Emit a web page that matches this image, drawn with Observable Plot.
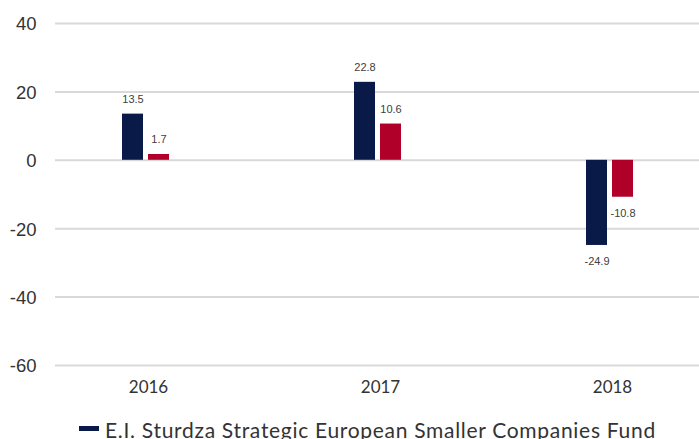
<!DOCTYPE html>
<html>
<head>
<meta charset="utf-8">
<script src="https://cdn.jsdelivr.net/npm/d3@7"></script>
<script src="https://cdn.jsdelivr.net/npm/@observablehq/plot@0.6"></script>
<style>
  html, body { margin: 0; padding: 0; background: #fff; overflow: hidden; }
  #chart svg { display: block; }
  .legend { display: flex; flex-wrap: wrap; margin-left: 79px; margin-top: 17px; width: 620px; font-family: Lato, "Open Sans", sans-serif; font-size: 21px; letter-spacing: 0.7px; color: #333; }
  .legend .item { display: flex; align-items: center; margin-right: 20px; line-height: 26px; }
  .legend .sw { width: 20px; height: 5px; margin-right: 6px; position: relative; top: -2px; }
</style>
</head>
<body>
<div id="chart"></div>
<script>
const years = ["2016", "2017", "2018"];
const seriesNames = ["E.I. Sturdza Strategic European Smaller Companies Fund", "Benchmark"];
const fundValues = [13.5, 22.8, -24.9];
const benchValues = [1.7, 10.6, -10.8];
const yTicks = [40, 20, 0, -20, -40, -60];
const colors = ["#0a1a48", "#b0002a"];

const rows = years.flatMap((y, i) => [
  {year: y, series: seriesNames[0], value: fundValues[i]},
  {year: y, series: seriesNames[1], value: benchValues[i]}
]);
const gridRows = years.flatMap(y => yTicks.map(t => ({year: y, tick: t})));

const chart = Plot.plot({
  width: 699,
  height: 400,
  marginTop: 23,
  marginBottom: 35,
  marginLeft: 55,
  marginRight: 0,
  style: {fontFamily: "'Liberation Sans', Arial, sans-serif", color: "#333", background: "#fff"},
  fx: {domain: years, range: [32, 728], padding: 0, label: null, axis: null},
  x: {domain: seriesNames, range: [145, 192], paddingInner: 0.2, paddingOuter: 0, axis: null},
  y: {domain: [-60, 40], axis: null, label: null},
  color: {domain: seriesNames, range: colors},
  marks: [
    Plot.ruleY(gridRows.filter(d => d.year === years[0]), {fx: "year", y: "tick", stroke: "#d9d9d9", strokeWidth: 2, insetLeft: 23}),
    Plot.ruleY(gridRows.filter(d => d.year !== years[0]), {fx: "year", y: "tick", stroke: "#d9d9d9", strokeWidth: 2}),
    Plot.axisY(yTicks, {tickSize: 0, tickPadding: 0, dx: 4, dy: 1, fontSize: 18.5, tickFormat: d => String(d), label: null}),
    Plot.axisFx({tickSize: 0, tickPadding: 15, fontSize: 17, fontFamily: "Lato, sans-serif", label: null, anchor: "bottom"}),
    Plot.barY(rows, {fx: "year", x: "series", y: "value", fill: "series"}),
    Plot.text(rows.filter(d => d.value >= 0), {fx: "year", x: "series", y: "value", text: d => d.value.toFixed(1), dy: -15, fontSize: 11, fill: "#404040"}),
    Plot.text(rows.filter(d => d.value < 0), {fx: "year", x: "series", y: "value", text: d => d.value.toFixed(1), dy: 16, fontSize: 11, fill: "#404040"})
  ]
});
document.getElementById("chart").appendChild(chart);

const legend = document.createElement("div");
legend.className = "legend";
seriesNames.forEach((name, i) => {
  const item = document.createElement("div");
  item.className = "item";
  const sw = document.createElement("span");
  sw.className = "sw";
  sw.style.background = colors[i];
  item.appendChild(sw);
  item.appendChild(document.createTextNode(name));
  legend.appendChild(item);
});
document.getElementById("chart").appendChild(legend);
</script>
</body>
</html>
